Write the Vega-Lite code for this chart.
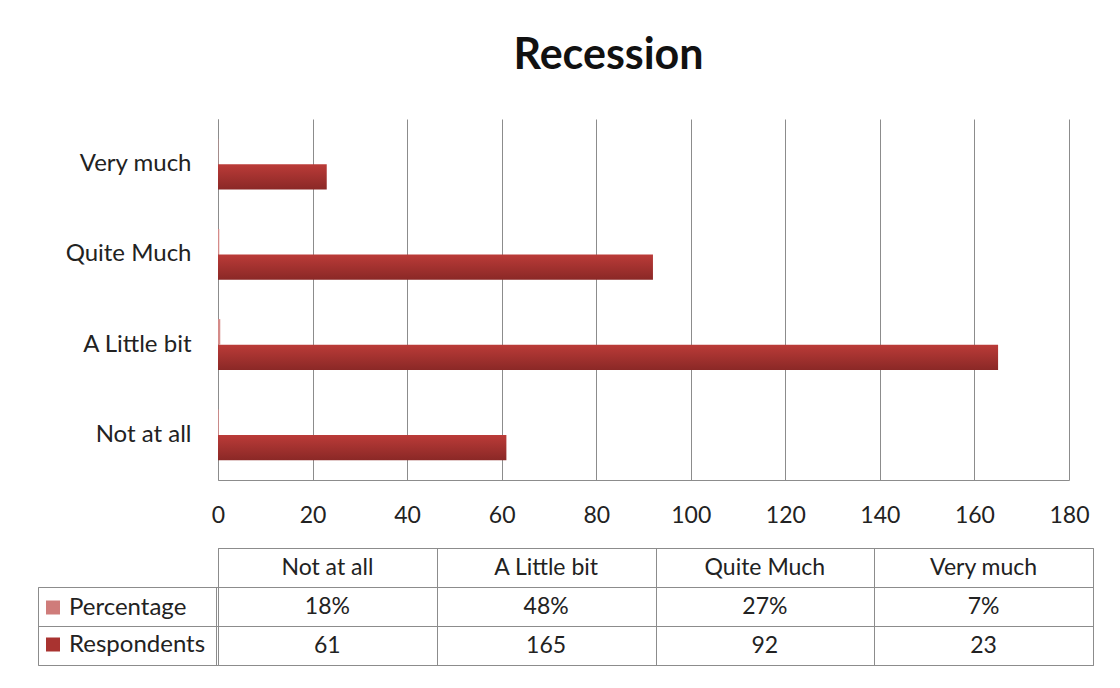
{
  "$schema": "https://vega.github.io/schema/vega-lite/v6.json",
  "padding": {"left": 37, "top": 35, "right": 10, "bottom": 10},
  "background": "white",
  "spacing": 20,
  "config": {"font": "Lato", "view": {"stroke": null}},
  "resolve": {"scale": {"color": "independent"}, "legend": {"color": "independent"}},
  "data": {
    "values": [
      {"category": "Not at all", "series": "Percentage", "value": 0.18},
      {"category": "A Little bit", "series": "Percentage", "value": 0.48},
      {"category": "Quite Much", "series": "Percentage", "value": 0.27},
      {"category": "Very much", "series": "Percentage", "value": 0.07},
      {"category": "Not at all", "series": "Respondents", "value": 61},
      {"category": "A Little bit", "series": "Respondents", "value": 165},
      {"category": "Quite Much", "series": "Respondents", "value": 92},
      {"category": "Very much", "series": "Respondents", "value": 23}
    ]
  },
  "vconcat": [
    {
      "width": 851,
      "height": 361,
      "title": {"text": "Recession", "fontSize": 43, "fontWeight": "bold", "font": "Lato", "color": "#111111", "anchor": "middle", "dx": -35, "offset": 41},
      "mark": {"type": "bar"},
      "encoding": {
        "y": {
          "field": "category", "type": "nominal",
          "sort": ["Very much", "Quite Much", "A Little bit", "Not at all"],
          "scale": {"paddingInner": 0.435, "paddingOuter": 0.2175},
          "axis": {"title": null, "labelFontSize": 24, "labelColor": "#222222", "labelPadding": 27, "ticks": false, "domainColor": "#8c8c8c", "grid": false}
        },
        "yOffset": {"field": "series", "type": "nominal", "sort": ["Percentage", "Respondents"], "scale": {"paddingInner": 0, "paddingOuter": 0}},
        "x": {
          "field": "value", "type": "quantitative",
          "scale": {"domain": [0, 180], "nice": false},
          "axis": {"title": null, "values": [0, 20, 40, 60, 80, 100, 120, 140, 160, 180], "grid": true, "gridColor": "#8c8c8c", "gridOpacity": 1, "ticks": false, "domainColor": "#8c8c8c", "labelFontSize": 23, "labelColor": "#222222", "labelPadding": 24, "labelFlush": false, "labelOverlap": false}
        },
        "color": {
          "condition": {"test": "datum.series === 'Percentage'", "value": "#d58b89"},
          "value": {"gradient": "linear", "x1": 0, "y1": 0, "x2": 0, "y2": 1, "stops": [{"offset": 0, "color": "#bb3b38"}, {"offset": 1, "color": "#8a2826"}]}
        }
      }
    },
    {
      "width": 875,
      "height": 117,
      "view": {"stroke": "#8c8c8c"},
      "encoding": {
        "x": {
          "field": "category", "type": "nominal",
          "sort": ["Not at all", "A Little bit", "Quite Much", "Very much"],
          "scale": {"paddingInner": 0, "paddingOuter": 0},
          "axis": {"title": null, "labels": false, "ticks": false, "domain": false, "grid": true, "tickBand": "extent", "gridColor": "#8c8c8c", "gridOpacity": 1}
        },
        "y": {
          "field": "series", "type": "nominal",
          "scale": {"domain": ["header", "Percentage", "Respondents"], "paddingInner": 0, "paddingOuter": 0},
          "axis": {"title": null, "labels": false, "domain": false, "ticks": true, "tickSize": 180, "tickColor": "#8c8c8c", "tickOpacity": {"condition": {"test": "datum.extra", "value": 0}, "value": 1}, "tickBand": "extent", "grid": true, "gridColor": "#8c8c8c", "gridOpacity": 1}
        }
      },
      "layer": [
        {
          "transform": [{"filter": "datum.series === 'Respondents'"}],
          "mark": {"type": "text", "fontSize": 23, "color": "#222222", "font": "Lato"},
          "encoding": {"y": {"datum": "header", "type": "nominal"}, "text": {"field": "category"}}
        },
        {
          "transform": [{"filter": "datum.series === 'Percentage'"}],
          "mark": {"type": "text", "fontSize": 23, "color": "#222222", "font": "Lato"},
          "encoding": {"text": {"field": "value", "format": ".0%"}}
        },
        {
          "transform": [{"filter": "datum.series === 'Respondents'"}],
          "mark": {"type": "text", "fontSize": 23, "color": "#222222", "font": "Lato"},
          "encoding": {"text": {"field": "value", "format": "d"}}
        },
        {
          "mark": {"type": "square", "opacity": 0},
          "encoding": {
            "color": {
              "field": "series", "type": "nominal",
              "scale": {"domain": ["Percentage", "Respondents"], "range": ["#cf7c7a", "#a93330"]},
              "legend": {"orient": "none", "legendX": -180, "legendY": 39, "title": " ", "titleOrient": "right", "titleFontSize": 1, "titlePadding": 9, "direction": "vertical", "strokeColor": "#8c8c8c", "padding": 2, "symbolType": "square", "symbolSize": 196, "symbolStrokeWidth": 0, "symbolOpacity": 1, "symbolOffset": 1, "labelOffset": 4, "labelFontSize": 24, "labelFont": "Lato", "labelColor": "#222222", "clipHeight": 37, "rowPadding": 0}
            }
          }
        }
      ]
    }
  ]
}
